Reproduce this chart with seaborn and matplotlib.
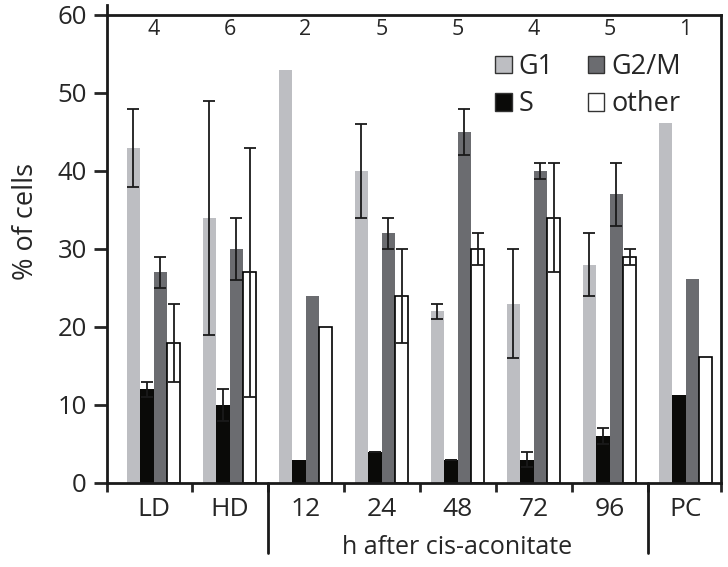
import numpy as np
import pandas as pd
import matplotlib
matplotlib.use("Agg")
import matplotlib.pyplot as plt
from matplotlib.transforms import blended_transform_factory
import seaborn as sns

categories = ['LD', 'HD', '12', '24', '48', '72', '96', 'PC']
n_counts = [4, 6, 2, 5, 5, 4, 5, 1]
phases = ['G1', 'S', 'G2/M', 'other']
g1 = [43, 34, 53, 40, 22, 23, 28, 46.1]
s_phase = [12, 10, 3, 4, 3, 3, 6, 11.3]
g2m = [27, 30, 24, 32, 45, 40, 37, 26.2]
other = [18, 27, 20, 24, 30, 34, 29, 16.2]
nan = np.nan
g1_err = [5, 15, nan, 6, 1, 7, 4, nan]
s_err = [1, 2, nan, 0, 0, 1, 1, nan]
g2m_err = [2, 4, nan, 2, 3, 1, 4, nan]
other_err = [5, 16, nan, 6, 2, 7, 1, nan]
colors = {'G1': '#BDBEC2', 'S': '#0A0A08', 'G2/M': '#6B6C70', 'other': '#FFFFFF'}

values = {'G1': g1, 'S': s_phase, 'G2/M': g2m, 'other': other}
errors = {'G1': g1_err, 'S': s_err, 'G2/M': g2m_err, 'other': other_err}

rows = []
for p in phases:
    for c, v in zip(categories, values[p]):
        rows.append({'cat': c, 'phase': p, 'val': v})
df = pd.DataFrame(rows)

sns.set_style('white')
plt.rcParams['font.family'] = ['Open Sans', 'DejaVu Sans']

fig = plt.figure(figsize=(7.28, 5.67), dpi=100)
ax = fig.add_axes([107/728, 1-483/567, (721-107)/728, (483-15)/567])

sns.barplot(data=df, x='cat', y='val', hue='phase', order=categories,
            hue_order=phases, palette=colors, width=0.71, errorbar=None,
            saturation=1, ax=ax, legend=True)

for p, cont in zip(phases, ax.containers):
    for i, bar in enumerate(cont.patches):
        if p == 'other':
            bar.set_edgecolor('black')
            bar.set_linewidth(1.2)
        else:
            bar.set_edgecolor('none')
            bar.set_linewidth(0)
        e = errors[p][i]
        if not np.isnan(e):
            ax.errorbar(bar.get_x() + bar.get_width()/2, bar.get_height(),
                        yerr=e, fmt='none', ecolor='#1a1a1a', elinewidth=1.3,
                        capsize=4, capthick=1.3, zorder=5)

xl0, xl1 = -0.612, 7.467
ax.set_xlim(xl0, xl1)
ax.set_ylim(0, 60)
ax.set_yticks(np.arange(0, 61, 10))
ax.tick_params(axis='y', which='major', direction='out', length=9.5, width=2,
               pad=5, labelsize=18.5, left=True)
ax.set_xticks(range(len(categories)))
ax.set_xticklabels(categories)
ax.tick_params(axis='x', which='major', length=0, pad=10, labelsize=19)
bounds = [xl0] + [i + 0.5 for i in range(7)] + [xl1]
ax.set_xticks(bounds, minor=True)
ax.tick_params(axis='x', which='minor', direction='out', length=6.5, width=2,
               bottom=True)

for sp in ax.spines.values():
    sp.set_linewidth(2)
    sp.set_color('#1a1a1a')
ax.spines['left'].set_bounds(0, 61.3)

for xb in [1.5, 6.5]:
    ax.axvline(xb, ymin=-0.15, ymax=0, color='#1a1a1a', lw=2, clip_on=False)

for i, nn in enumerate(n_counts):
    ax.text(i, 58.1, str(nn), ha='center', va='center', fontsize=15.5)

ax.set_xlabel('')
ax.set_ylabel('% of cells', fontsize=19.5)
ax.yaxis.set_label_coords((40-107)/614, (483-221)/468)
trans = blended_transform_factory(ax.transData, ax.transAxes)
ax.text(4.0, -0.137, 'h after cis-aconitate', transform=trans, ha='center',
        va='center', fontsize=18)

handles, labels = ax.get_legend_handles_labels()
for h in handles:
    h.set_edgecolor('#333333')
    h.set_linewidth(1)
ax.legend(handles, labels, ncol=2, frameon=False, fontsize=19.5,
          handlelength=0.62, handleheight=0.62, handletextpad=0.25,
          columnspacing=1.25, labelspacing=0.35, loc='upper left',
          bbox_to_anchor=(495/728, 1-53/567), bbox_transform=fig.transFigure,
          borderpad=0, borderaxespad=0)

fig.savefig('out.png', dpi=100)
